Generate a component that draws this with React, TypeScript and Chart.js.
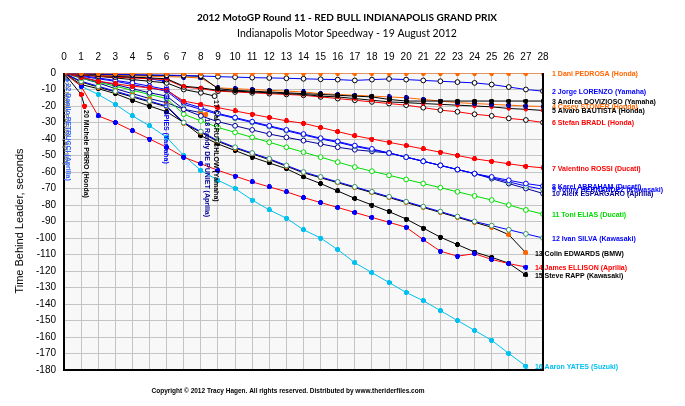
import React, { useEffect, useRef } from 'react';
import { Chart, registerables } from 'chart.js';

Chart.register(...registerables);

const TITLE = '2012 MotoGP Round 11 - RED BULL INDIANAPOLIS GRAND PRIX';
const SUBTITLE = 'Indianapolis Motor Speedway - 19 August 2012';
const Y_TITLE = 'Time Behind Leader, seconds';
const COPYRIGHT = 'Copyright \u00A9 2012 Tracy Hagen. All rights reserved. Distributed by www.theriderfiles.com';

const LAPS_28 = [0, 1, 2, 3, 4, 5, 6, 7, 8, 9, 10, 11, 12, 13, 14, 15, 16, 17, 18, 19, 20, 21, 22, 23, 24, 25, 26, 27, 28];
const LAPS_27 = [0, 1, 2, 3, 4, 5, 6, 7, 8, 9, 10, 11, 12, 13, 14, 15, 16, 17, 18, 19, 20, 21, 22, 23, 24, 25, 26, 27];

const PEDROSA = [0, 0, 0, 0, 0, 0, 0, 0, 0, 0, 0, 0, 0, 0, 0, 0, 0, 0, 0, 0, 0, 0, 0, 0, 0, 0, 0, 0, 0];
const LORENZO = [0, -0.3, -0.6, -0.8, -1, -1.2, -1.3, -1.5, -1.8, -2.2, -2.5, -2.8, -3, -3.2, -3.5, -3.8, -4, -4.5, -4, -3.6, -4, -4.5, -5, -5.5, -6, -7, -8.5, -10, -11];
const DOVIZIOSO = [0, -0.5, -0.8, -1, -1.2, -1.4, -1.5, -1.7, -2, -9.5, -10.5, -11, -11.5, -12, -12.5, -13, -13.5, -14, -14.5, -16, -17, -17, -17, -17, -17, -17, -17, -17, -17];
const STONER = [0, -0.8, -1.2, -1.5, -1.8, -2, -2.2, -2.5, -3, -9, -9.5, -10, -10.5, -11, -11.5, -12.5, -13, -13.5, -14, -14.5, -15, -16, -17, -18, -18.5, -19, -19.5, -20, -20.3];
const BAUTISTA = [0, -1, -1.5, -2, -2.5, -3, -3.5, -8, -9, -10.5, -11, -11.5, -12, -12.5, -13, -14, -14.5, -15.5, -16.5, -17.5, -18, -18.5, -19, -19.5, -20, -20.5, -21.5, -22, -22.7];
const BRADL = [0, -1.2, -2, -2.5, -3, -3.5, -4, -8.5, -9.5, -11, -11.5, -12, -12.5, -13, -13.5, -14.5, -15.5, -16.5, -17.5, -18.5, -19.5, -21, -22.5, -23.5, -25, -26, -27.5, -28.5, -30];
const ROSSI = [0, -2.5, -5, -6.5, -8, -9, -10.5, -17, -19, -21, -23, -25, -27, -29, -30.5, -33, -35.5, -38, -40, -42, -44, -46, -48, -50, -52, -53.5, -55, -56.5, -57.5];
const ABRAHAM = [0, -1.5, -3, -4.5, -6, -8, -10, -18, -21, -24.5, -27, -29.5, -32, -34.5, -37, -39.5, -41.5, -44, -46, -48.5, -51, -53.5, -56, -58.5, -61, -63, -65, -67, -68.5];
const HERNANDEZ = [0, -2, -3.5, -5, -7, -9, -11, -19, -22, -25, -27.5, -30, -32.5, -35, -37.5, -40, -42, -44.5, -46.5, -48.5, -51, -53.5, -56, -58.5, -61, -63.5, -66, -68.5, -70.5];
const ESPARGARO = [0, -2.5, -5, -7, -9.5, -12, -14, -22, -26, -29.5, -32, -34.5, -37, -39, -41, -43, -45, -46.5, -47.5, -48.5, -51, -53.5, -56, -58.5, -61, -64, -67, -70, -73];
const ELIAS = [0, -3, -5.5, -8, -10.5, -13, -15.5, -25, -29, -33, -36, -39, -42, -45, -48, -51, -54, -57, -59.5, -62, -64.5, -67, -69.5, -72, -74.5, -77, -80, -83, -85.5];
const SILVA = [0, -5, -8, -11, -14, -17, -20, -30, -35.5, -41, -45, -48.5, -52, -56, -60, -63, -66, -69, -72, -75, -78, -81, -84, -87, -90, -92.5, -95, -97.5, -100];
const EDWARDS = [0, -5.5, -8.5, -11.5, -14.5, -17.5, -20.5, -30.5, -36, -41.5, -45.5, -49, -52.5, -56.5, -60.5, -63.5, -66.5, -69.5, -72.5, -75.5, -78.5, -81.5, -84.5, -87.5, -90.5, -93.5, -98, -109];
const ELLISON = [0, -8, -26, -30, -35, -40, -45, -51, -55, -59, -62.5, -66, -69, -72, -75.5, -78.5, -81.5, -84.5, -87.5, -90.5, -93.5, -101, -108, -111, -109.5, -113, -115.5, -117.6];
const RAPP = [0, -7, -9.5, -12.5, -16.5, -20, -23.5, -30, -38, -43, -47, -51, -54.5, -58, -63, -67, -71.5, -76, -80, -84, -88.5, -94, -99.5, -104, -108.5, -111.7, -115.3, -122.4];
const YATES = [0, -8, -13, -19, -26, -32, -39, -50, -59, -65, -70, -77, -83, -88, -95, -100, -107, -115, -121, -127, -133, -138, -144, -150, -156, -162, -170, -177.6];

const CRUTCHLOW_LAPS = [0, 1, 2, 3, 4, 5, 6, 7, 8, 8.8];
const CRUTCHLOW = [0, -1, -2, -3, -4, -5, -6, -10, -12, -14];
const DEPUNIET_LAPS = [0, 1, 2, 3, 4, 5, 6, 7, 8, 8.3];
const DEPUNIET = [0, -3, -6, -9.5, -12.5, -15.5, -18, -22, -24, -25];
const SPIES_LAPS = [0, 1, 2, 3, 4, 5, 5.9];
const SPIES = [0, -0.5, -1, -1.5, -2.5, -3.5, -5];
const PIRRO_LAPS = [0, 1, 1.2];
const PIRRO = [0, -13, -20];
const PASINI_LAPS = [0, 0.05];
const PASINI = [0, -3];
const PETRUCCI_LAPS = [0, 0.2];
const PETRUCCI = [0, -4];

const X_TICKS = LAPS_28;
const Y_MIN = -180;
const Y_MAX = 0;

const ORANGE = '#ff6600';
const BLUE = '#0000ff';
const BLACK = '#000000';
const RED = '#ff0000';
const NAVY = '#000099';
const GREEN = '#00dd00';
const TEAL = '#339966';
const CYAN = '#00c0f0';
const GRAY = '#808080';
const LIGHTBLUE = '#3366ff';

type Rider = {
  label: string; laps: number[]; values: number[]; line: string; marker: string;
  shape: 'plus' | 'ring' | 'dot'; text: string; retired?: boolean;
};

const RIDERS: Rider[] = [
  { label: '1 Dani PEDROSA (Honda)', laps: LAPS_28, values: PEDROSA, line: ORANGE, marker: ORANGE, shape: 'plus', text: ORANGE },
  { label: '2 Jorge LORENZO (Yamaha)', laps: LAPS_28, values: LORENZO, line: BLUE, marker: BLACK, shape: 'ring', text: BLUE },
  { label: '3 Andrea DOVIZIOSO (Yamaha)', laps: LAPS_28, values: DOVIZIOSO, line: BLACK, marker: BLACK, shape: 'plus', text: BLACK },
  { label: '4 Casey STONER (Honda)', laps: LAPS_28, values: STONER, line: ORANGE, marker: NAVY, shape: 'plus', text: ORANGE },
  { label: '5 Alvaro BAUTISTA (Honda)', laps: LAPS_28, values: BAUTISTA, line: BLACK, marker: RED, shape: 'dot', text: BLACK },
  { label: '6 Stefan BRADL (Honda)', laps: LAPS_28, values: BRADL, line: RED, marker: BLACK, shape: 'ring', text: RED },
  { label: '7 Valentino ROSSI (Ducati)', laps: LAPS_28, values: ROSSI, line: RED, marker: RED, shape: 'plus', text: RED },
  { label: '8 Karel ABRAHAM (Ducati)', laps: LAPS_28, values: ABRAHAM, line: BLUE, marker: BLUE, shape: 'ring', text: BLUE },
  { label: '9 Yonny HERNANDEZ (Kawasaki)', laps: LAPS_28, values: HERNANDEZ, line: BLUE, marker: TEAL, shape: 'ring', text: BLUE },
  { label: '10 Aleix ESPARGARO (Aprilia)', laps: LAPS_28, values: ESPARGARO, line: NAVY, marker: NAVY, shape: 'ring', text: NAVY },
  { label: '11 Toni ELIAS (Ducati)', laps: LAPS_28, values: ELIAS, line: GREEN, marker: GREEN, shape: 'ring', text: GREEN },
  { label: '12 Ivan SILVA (Kawasaki)', laps: LAPS_28, values: SILVA, line: BLUE, marker: TEAL, shape: 'ring', text: BLUE },
  { label: '13 Colin EDWARDS (BMW)', laps: LAPS_27, values: EDWARDS, line: BLACK, marker: ORANGE, shape: 'plus', text: BLACK },
  { label: '14 James ELLISON (Aprilia)', laps: LAPS_27, values: ELLISON, line: RED, marker: BLUE, shape: 'plus', text: RED },
  { label: '15 Steve RAPP (Kawasaki)', laps: LAPS_27, values: RAPP, line: BLACK, marker: BLACK, shape: 'plus', text: BLACK },
  { label: '16 Aaron YATES (Suzuki)', laps: LAPS_27, values: YATES, line: CYAN, marker: CYAN, shape: 'plus', text: CYAN },
  { label: '17 Cal CRUTCHLOW (Yamaha)', laps: CRUTCHLOW_LAPS, values: CRUTCHLOW, line: BLACK, marker: BLACK, shape: 'ring', text: BLACK, retired: true },
  { label: '18 Randy DE PUNIET (Aprilia)', laps: DEPUNIET_LAPS, values: DEPUNIET, line: NAVY, marker: ORANGE, shape: 'plus', text: NAVY, retired: true },
  { label: '19 Ben SPIES (Yamaha)', laps: SPIES_LAPS, values: SPIES, line: BLUE, marker: BLUE, shape: 'plus', text: BLUE, retired: true },
  { label: '20 Michele PIRRO (Honda)', laps: PIRRO_LAPS, values: PIRRO, line: BLACK, marker: RED, shape: 'plus', text: BLACK, retired: true },
  { label: '21 Mattia PASINI (Aprilia)', laps: PASINI_LAPS, values: PASINI, line: GRAY, marker: GRAY, shape: 'dot', text: GRAY, retired: true },
  { label: '22 Danilo PETRUCCI (Aprilia)', laps: PETRUCCI_LAPS, values: PETRUCCI, line: LIGHTBLUE, marker: LIGHTBLUE, shape: 'dot', text: LIGHTBLUE, retired: true },
];

const FONT = "'Liberation Sans', Arial, sans-serif";
const TITLE_FONT = "Lato, 'Liberation Sans', sans-serif";

function makePlus(color: string): HTMLCanvasElement {
  const c = document.createElement('canvas');
  c.width = 5; c.height = 5;
  const g = c.getContext('2d')!;
  g.fillStyle = color;
  g.fillRect(1, 0, 3, 5);
  g.fillRect(0, 1, 5, 3);
  return c;
}

const decoPlugin = {
  id: 'deco',
  beforeDraw(chart: any) {
    const { ctx, chartArea: a } = chart;
    ctx.save();
    ctx.fillStyle = '#ffffff';
    ctx.fillRect(0, 0, chart.width, chart.height);
    ctx.fillStyle = '#f8f8f8';
    ctx.fillRect(a.left, a.top, a.right - a.left, a.bottom - a.top);
    ctx.restore();
  },
  afterDraw(chart: any) {
    const { ctx, chartArea: a } = chart;
    ctx.save();
    ctx.strokeStyle = '#000';
    ctx.lineWidth = 2;
    ctx.beginPath();
    ctx.moveTo(a.left, a.top);
    ctx.lineTo(a.left, a.bottom);
    ctx.lineTo(a.right, a.bottom);
    ctx.lineTo(a.right, a.top);
    ctx.stroke();

    ctx.fillStyle = '#000';
    ctx.textAlign = 'center';
    ctx.textBaseline = 'middle';
    ctx.font = `bold 10px ${TITLE_FONT}`;
    ctx.fillText(TITLE, 347, 18);
    ctx.font = `10.5px ${TITLE_FONT}`;
    ctx.fillText(SUBTITLE, 347, 34);
    ctx.font = `bold 6.5px ${FONT}`;
    ctx.fillText(COPYRIGHT, 288, 391);

    ctx.save();
    ctx.translate(20, 221);
    ctx.rotate(-Math.PI / 2);
    ctx.font = `11px ${FONT}`;
    ctx.fillText(Y_TITLE, 0, 0);
    ctx.restore();

    ctx.font = `bold 7px ${FONT}`;
    RIDERS.forEach((r, i) => {
      const meta = chart.getDatasetMeta(i);
      const pts = meta.data;
      const last = pts[pts.length - 1];
      if (!last) return;
      ctx.fillStyle = r.text;
      if (r.retired) {
        ctx.save();
        ctx.translate(last.x + 1, last.y + 4);
        ctx.rotate(Math.PI / 2);
        ctx.textAlign = 'left';
        ctx.textBaseline = 'middle';
        ctx.fillText(r.label, 0, 0);
        ctx.restore();
      } else {
        ctx.textAlign = 'left';
        ctx.textBaseline = 'middle';
        ctx.fillText(r.label, last.x + 9, last.y + 1);
      }
    });
    ctx.restore();
  },
};

export default function App() {
  const ref = useRef<HTMLCanvasElement>(null);
  useEffect(() => {
    if (!ref.current) return;
    const plusCache: Record<string, HTMLCanvasElement> = {};
    const plus = (c: string) => (plusCache[c] ||= makePlus(c));
    const datasets = RIDERS.map((r) => ({
      label: r.label,
      data: r.laps.map((l, k) => ({ x: l, y: r.values[k] })),
      borderColor: r.line,
      borderWidth: 1,
      pointStyle: r.shape === 'plus' ? plus(r.marker) : 'circle',
      pointRadius: r.shape === 'ring' ? 2.4 : r.shape === 'dot' ? 1.8 : 2.5,
      pointBackgroundColor: r.shape === 'ring' ? '#ffffff' : r.marker,
      pointBorderColor: r.marker,
      pointBorderWidth: 1,
      tension: 0,
      fill: false,
    }));
    const chart = new Chart(ref.current, {
      type: 'line',
      data: { datasets },
      options: {
        animation: false,
        responsive: false,
        devicePixelRatio: 1,
        layout: { padding: { left: 0, top: 0, right: 142, bottom: 36 } },
        plugins: { legend: { display: false }, title: { display: false }, tooltip: { enabled: false } },
        scales: {
          x: {
            type: 'linear',
            position: 'top',
            min: 0,
            max: 28,
            afterBuildTicks: (s: any) => { s.ticks = X_TICKS.map((v) => ({ value: v })); },
            afterFit: (s: any) => { s.height = 73; },
            ticks: { color: '#000', font: { family: FONT, size: 10 }, padding: 10, maxRotation: 0, autoSkip: false },
            grid: { color: '#c4c4c4', drawTicks: false, lineWidth: 1 },
            border: { display: false },
          },
          y: {
            type: 'linear',
            min: Y_MIN,
            max: Y_MAX,
            afterFit: (s: any) => { s.width = 64; },
            ticks: { stepSize: 10, color: '#000', font: { family: FONT, size: 10 }, padding: 8 },
            grid: { color: '#c4c4c4', drawTicks: false, lineWidth: 1 },
            border: { display: false },
          },
        },
      },
      plugins: [decoPlugin],
    });
    return () => chart.destroy();
  }, []);
  return (
    <div style={{ position: 'fixed', left: 0, top: 0, width: 685, height: 406, background: '#fff' }}>
      <canvas ref={ref} width={685} height={406} style={{ width: 685, height: 406, display: 'block' }} />
    </div>
  );
}
